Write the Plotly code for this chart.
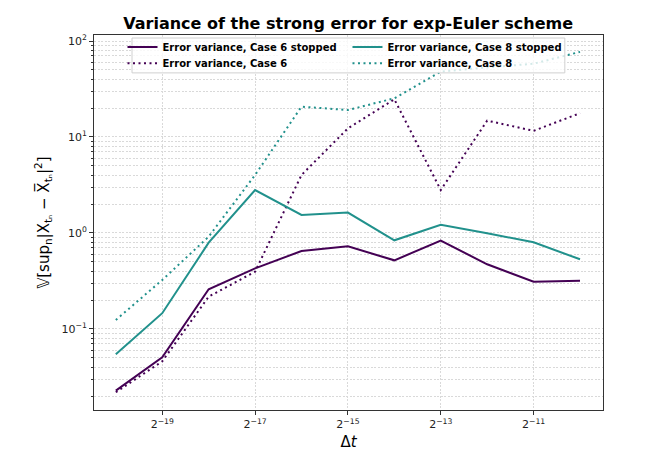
import numpy as np
import plotly.graph_objects as go

exponents = [-20, -19, -18, -17, -16, -15, -14, -13, -12, -11, -10]
case6_stopped = [0.0228, 0.0507, 0.259, 0.428, 0.649, 0.726, 0.519, 0.832, 0.472, 0.311, 0.318]
case8_stopped = [0.0545, 0.146, 0.792, 2.80, 1.54, 1.63, 0.839, 1.22, 0.993, 0.80, 0.532]
case6 = [0.0219, 0.046, 0.217, 0.395, 4.02, 12.3, 24.7, 2.8, 14.8, 11.6, 17.7]
case8 = [0.124, 0.324, 0.916, 4.02, 20.7, 19.1, 25.3, 47.9, 53.0, 58.0, 77.0]
xtick_exps = [-19, -17, -15, -13, -11]
ytick_exps = [-1, 0, 1, 2]

purple = "#440154"
teal = "#21918c"
dt = [2.0 ** e for e in exponents]

fig = go.Figure()
fig.add_trace(go.Scatter(x=dt, y=case6_stopped, mode="lines", name="Error variance, Case 6 stopped",
                         line=dict(color=purple, width=2), legend="legend", showlegend=True))
fig.add_trace(go.Scatter(x=dt, y=case6, mode="lines", name="Error variance, Case 6",
                         line=dict(color=purple, width=2, dash="2px,3.5px"), legend="legend2", showlegend=True))
fig.add_trace(go.Scatter(x=dt, y=case8_stopped, mode="lines", name="Error variance, Case 8 stopped",
                         line=dict(color=teal, width=2), legend="legend3", showlegend=True))
fig.add_trace(go.Scatter(x=dt, y=case8, mode="lines", name="Error variance, Case 8",
                         line=dict(color=teal, width=2, dash="2px,3.5px"), legend="legend4", showlegend=True))

l2 = np.log10(2)
grid = "#d9d9d9"
axcol = "#333333"
legfont = dict(size=10, family="DejaVu Sans", weight="bold")


def leg(x, y):
    return dict(orientation="v", x=x, y=y, xanchor="left", yanchor="middle",
                bgcolor="rgba(0,0,0,0)", borderwidth=0, font=legfont,
                itemwidth=30, tracegroupgap=0)


fig.update_layout(
    width=658, height=468,
    showlegend=True,
    margin=dict(l=86, r=63, t=27, b=66, autoexpand=False),
    paper_bgcolor="white", plot_bgcolor="white",
    font=dict(family="DejaVu Sans", size=10, color="black"),
    title=dict(text="<b>Variance of the strong error for exp-Euler scheme</b>",
               x=0.517, xanchor="center", y=0.968, yanchor="middle",
               font=dict(size=16, family="DejaVu Sans"), automargin=False),
    xaxis=dict(type="log", range=[-20.47 * l2, -9.505 * l2], automargin=False,
               tickvals=[2.0 ** e for e in xtick_exps],
               ticktext=["2<sup>\u2212%d</sup>" % (-e) for e in xtick_exps],
               tickfont=dict(size=11, color="#222222"),
               ticks="outside", ticklen=4, tickcolor=axcol,
               showgrid=True, gridcolor=grid, griddash="2px,1.5px", gridwidth=0.8,
               showline=True, linecolor=axcol, linewidth=1, mirror=True,
               zeroline=False,
               title=dict(text="\u0394<i>t</i>", font=dict(size=15), standoff=6)),
    yaxis=dict(type="log", range=[-1.844, 2.0625], automargin=False,
               tickvals=[10.0 ** e for e in ytick_exps],
               ticktext=["10<sup>%s</sup>" % (str(e).replace("-", "\u2212")) for e in ytick_exps],
               tickfont=dict(size=11, color="#222222"),
               ticks="outside", ticklen=4, tickcolor=axcol,
               showgrid=True, gridcolor=grid, griddash="2px,1.5px", gridwidth=0.8,
               minor=dict(ticks="outside", ticklen=2, tickcolor=axcol, showgrid=True,
                          gridcolor=grid, griddash="2px,1.5px", gridwidth=0.7,
                          tickvals=[m * 10.0 ** d for d in range(-2, 3) for m in range(2, 10)]),
               showline=True, linecolor=axcol, linewidth=1, mirror=True,
               zeroline=False,
               title=dict(text="\U0001D54D[sup<sub>n</sub>|X<sub>t\u2099</sub> \u2212 X\u0305<sub>t\u2099</sub>|<sup>2</sup>]",
                          font=dict(size=15), standoff=8)),
    legend=leg(0.056, 0.968),
    legend2=leg(0.056, 0.925),
    legend3=leg(0.498, 0.968),
    legend4=leg(0.498, 0.925),
    shapes=[dict(type="rect", xref="paper", yref="paper", x0=0.0747, x1=0.925, y0=0.899, y1=0.992,
                 fillcolor="rgba(255,255,255,0.8)", line=dict(color="#d0d0d0", width=1), layer="above")],
)

fig.write_html("out.html")
